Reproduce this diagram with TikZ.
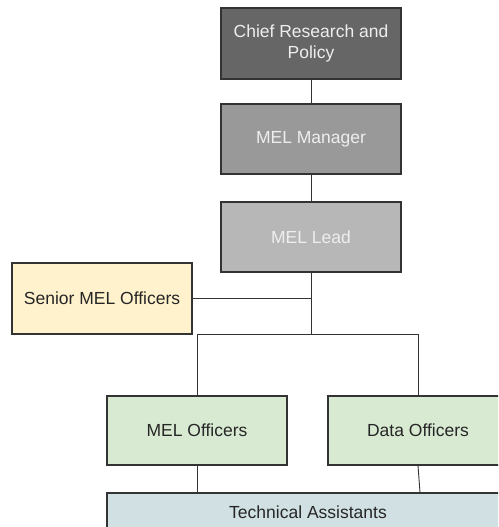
\documentclass[tikz,border=0pt]{standalone}
\usepackage{fontspec}
\setmainfont{Liberation Sans}
\definecolor{chieffill}{HTML}{666666}
\definecolor{mgrfill}{HTML}{999999}
\definecolor{leadfill}{HTML}{B7B7B7}
\definecolor{seniorfill}{HTML}{FFF2CC}
\definecolor{greenfill}{HTML}{D9EAD3}
\definecolor{techfill}{HTML}{D0E0E3}
\definecolor{edge}{HTML}{333333}
\definecolor{lighttext}{HTML}{EEEEEE}
\definecolor{darktext}{HTML}{262626}
\begin{document}
\begin{tikzpicture}[
  box/.style={draw=edge, line width=1.1pt, minimum width=180pt, minimum height=70pt,
    inner sep=2pt, align=center, font=\fontsize{17.5}{21}\selectfont, text=darktext},
  link/.style={draw=edge, line width=0.9pt}
]
\useasboundingbox (0,0) rectangle (498pt,-527pt);
\clip (0,0) rectangle (498pt,-527pt);
\fill[white] (0,0) rectangle (498pt,-527pt);
\node[box, fill=chieffill, text=lighttext, minimum height=71pt] (chief) at (311pt,-43.5pt) {Chief Research and\\Policy};
\node[box, fill=mgrfill, text=lighttext] (mgr) at (311pt,-139pt) {MEL Manager};
\node[box, fill=leadfill, text=lighttext] (lead) at (311pt,-237pt) {MEL Lead};
\node[box, fill=seniorfill, minimum height=71pt] (senior) at (102pt,-298.5pt) {Senior MEL Officers};
\node[box, fill=greenfill, minimum height=69pt] (melo) at (197pt,-430.5pt) {MEL Officers};
\node[box, fill=greenfill, minimum height=69pt] (data) at (418pt,-430.5pt) {Data Officers};
\node[box, fill=techfill, minimum width=402pt, minimum height=38pt] (tech) at (308pt,-512pt) {Technical Assistants};
\coordinate (j1) at (311pt,-334pt);
\coordinate (dtop) at (418pt,-334pt);
\coordinate (mtop) at (197pt,-334pt);
\draw[link] (chief.south) -- (mgr.north);
\draw[link] (mgr.south) -- (lead.north);
\draw[link] (lead.south) -- (j1);
\draw[link] (senior.east) -- (senior.east -| j1);
\draw[link] (mtop) -- (dtop);
\draw[link] (mtop) -- (melo.north);
\draw[link] (dtop) -- (data.north);
\draw[link] (melo.south) -- (melo.south |- tech.north);
\draw[link] (data.south) -- ([xshift=2pt]data.south |- tech.north);
\end{tikzpicture}
\end{document}
